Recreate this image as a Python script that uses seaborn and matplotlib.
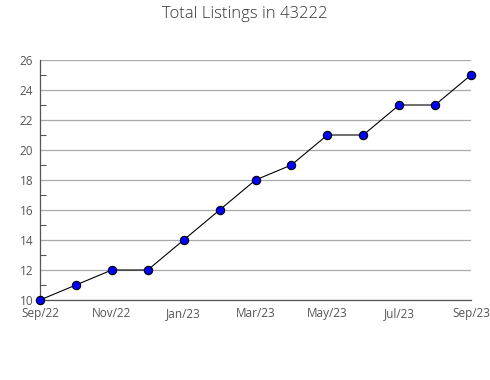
import matplotlib
matplotlib.use("Agg")
import matplotlib.pyplot as plt
import seaborn as sns
import pandas as pd
from matplotlib.ticker import MultipleLocator

months = ["Sep/22", "Oct/22", "Nov/22", "Dec/22", "Jan/23", "Feb/23", "Mar/23",
          "Apr/23", "May/23", "Jun/23", "Jul/23", "Aug/23", "Sep/23"]
listings = [10, 11, 12, 12, 14, 16, 18, 19, 21, 21, 23, 23, 25]
title = "Total Listings in 43222"

df = pd.DataFrame({"idx": range(len(months)), "month": months, "value": listings})

sns.set_style("white")
plt.rcParams["font.family"] = ["Open Sans", "DejaVu Sans"]

fig = plt.figure(figsize=(4.9, 3.8), dpi=100)
ax = fig.add_axes([40/490, 1-300/380, 431/490, 240/380])

sns.lineplot(data=df, x="idx", y="value", ax=ax, color="black", linewidth=0.8,
             marker="o", markersize=6, markerfacecolor="#0000ff",
             markeredgecolor="black", markeredgewidth=0.8, clip_on=False, zorder=3)

ax.set_xlim(0, len(months) - 1)
ax.set_ylim(10, 26)
ax.yaxis.set_major_locator(MultipleLocator(2))
ax.yaxis.set_minor_locator(MultipleLocator(1))
ax.grid(axis="y", which="major", color="#aaaaaa", linewidth=0.9)
ax.set_axisbelow(True)

ax.set_xticks(range(len(months)))
ax.set_xticklabels([m if i % 2 == 0 else "" for i, m in enumerate(months)])
ax.set_xlabel("")
ax.set_ylabel("")

for s in ["top", "right"]:
    ax.spines[s].set_visible(False)
for s in ["left", "bottom"]:
    ax.spines[s].set_color("#555555")
    ax.spines[s].set_linewidth(0.9)

ax.tick_params(axis="x", which="major", direction="out", length=4, width=0.8,
               color="#555555", labelsize=8.5, labelcolor="#555555", pad=1)
ax.tick_params(axis="y", which="major", direction="in", length=0,
               labelsize=8.5, labelcolor="#555555", pad=5)
ax.tick_params(axis="y", which="minor", direction="in", length=4, width=0.8,
               color="#555555", left=True)
for lbl in ax.get_yticklabels():
    lbl.set_verticalalignment("center_baseline")

fig.suptitle(title, x=0.5, y=0.985, fontsize=12, color="#333333",
             fontweight="light")

fig.savefig("out.png", dpi=100)
